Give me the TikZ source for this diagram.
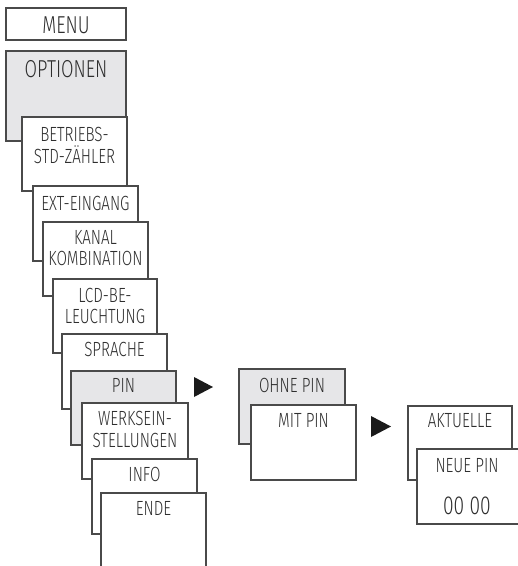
\documentclass[tikz,border=0pt]{standalone}
\usepackage{fontspec}
\newfontfamily\boxfont{Fira Sans}[UprightFont=* Light, FakeStretch=0.74]
\definecolor{boxline}{HTML}{4A4A4A}
\definecolor{boxgray}{HTML}{E6E6E8}
\definecolor{txt}{HTML}{2E2E2E}
\definecolor{arrowblack}{HTML}{1A1A1A}
\begin{document}
\begin{tikzpicture}[x=1pt,y=-1pt,
  box/.style={draw=boxline, line width=1.2pt, fill=white, anchor=north west, inner sep=0pt, outer sep=0pt},
  graybox/.style={box, fill=boxgray},
  lbl/.style={inner sep=0pt, text height=12.5pt, text depth=0pt, text=txt,
    font=\boxfont\fontsize{20.5}{22}\selectfont},
  biglbl/.style={lbl, text height=15pt, font=\boxfont\fontsize{24.5}{26}\selectfont},
  numlbl/.style={lbl, text height=16pt, font=\boxfont\fontsize{26}{28}\selectfont},
  tri/.style={fill=arrowblack}]
\useasboundingbox (0,0) rectangle (518,566);
\clip (0,0) rectangle (518,566);
% menu column
\node[box, minimum width=120pt, minimum height=32pt] (menu) at (6,8) {};
\node[biglbl] (menuT) at (66,25.8) {MENU};
\node[graybox, minimum width=120pt, minimum height=90pt] (opt) at (6,51) {};
\node[biglbl] (optT) at (66,69.5) {OPTIONEN};
\node[box, minimum width=105pt, minimum height=74pt] (betr) at (22,117) {};
\node[lbl] (betrA) at (74.5,135) {BETRIEBS-};
\node[lbl] (betrB) at (74.5,157) {STD-ZÄHLER};
\node[box, minimum width=105pt, minimum height=75pt] (ext) at (33,186) {};
\node[lbl] (extT) at (85.5,204) {EXT-EINGANG};
\node[box, minimum width=105pt, minimum height=74pt] (kanal) at (43,222) {};
\node[lbl] (kanalA) at (95.5,238.5) {KANAL};
\node[lbl] (kanalB) at (95.5,259) {KOMBINATION};
\node[box, minimum width=104pt, minimum height=74pt] (lcd) at (53,279) {};
\node[lbl] (lcdA) at (105,296) {LCD-BE-};
\node[lbl] (lcdB) at (105,317) {LEUCHTUNG};
\node[box, minimum width=105pt, minimum height=75pt] (spr) at (62,334) {};
\node[lbl] (sprT) at (114.5,350.5) {SPRACHE};
\node[graybox, minimum width=105pt, minimum height=74pt] (pin) at (71,371) {};
\node[lbl] (pinT) at (123.5,386) {PIN};
\node[box, minimum width=106pt, minimum height=76pt] (werk) at (82,403) {};
\node[lbl] (werkA) at (135,419.5) {WERKSEIN-};
\node[lbl] (werkB) at (135,441.5) {STELLUNGEN};
\node[box, minimum width=105pt, minimum height=75pt] (info) at (92,459) {};
\node[lbl] (infoT) at (144.5,475.5) {INFO};
\node[box, minimum width=105pt, minimum height=95pt] (ende) at (101,493) {};
\node[lbl] (endeT) at (153.5,509.5) {ENDE};
% pin column
\node[graybox, minimum width=106pt, minimum height=75pt] (ohne) at (239,369) {};
\node[lbl] (ohneT) at (292,386) {OHNE PIN};
\node[box, minimum width=105pt, minimum height=75pt] (mit) at (251,405) {};
\node[lbl] (mitT) at (303.5,421.5) {MIT PIN};
% new pin column
\node[box, minimum width=104pt, minimum height=74pt] (akt) at (408,406) {};
\node[lbl] (aktT) at (460,421.5) {AKTUELLE};
\node[box, minimum width=115pt, minimum height=75pt] (neue) at (417,449) {};
\node[lbl] (neueT) at (467,466) {NEUE PIN};
\node[numlbl] (neueN) at (467,506) {00 00};
% arrows
\fill[tri] (194,377) -- (194,397) -- (213,387) -- cycle;
\fill[tri] (371,416) -- (371,437) -- (391,426.5) -- cycle;
\end{tikzpicture}
\end{document}
